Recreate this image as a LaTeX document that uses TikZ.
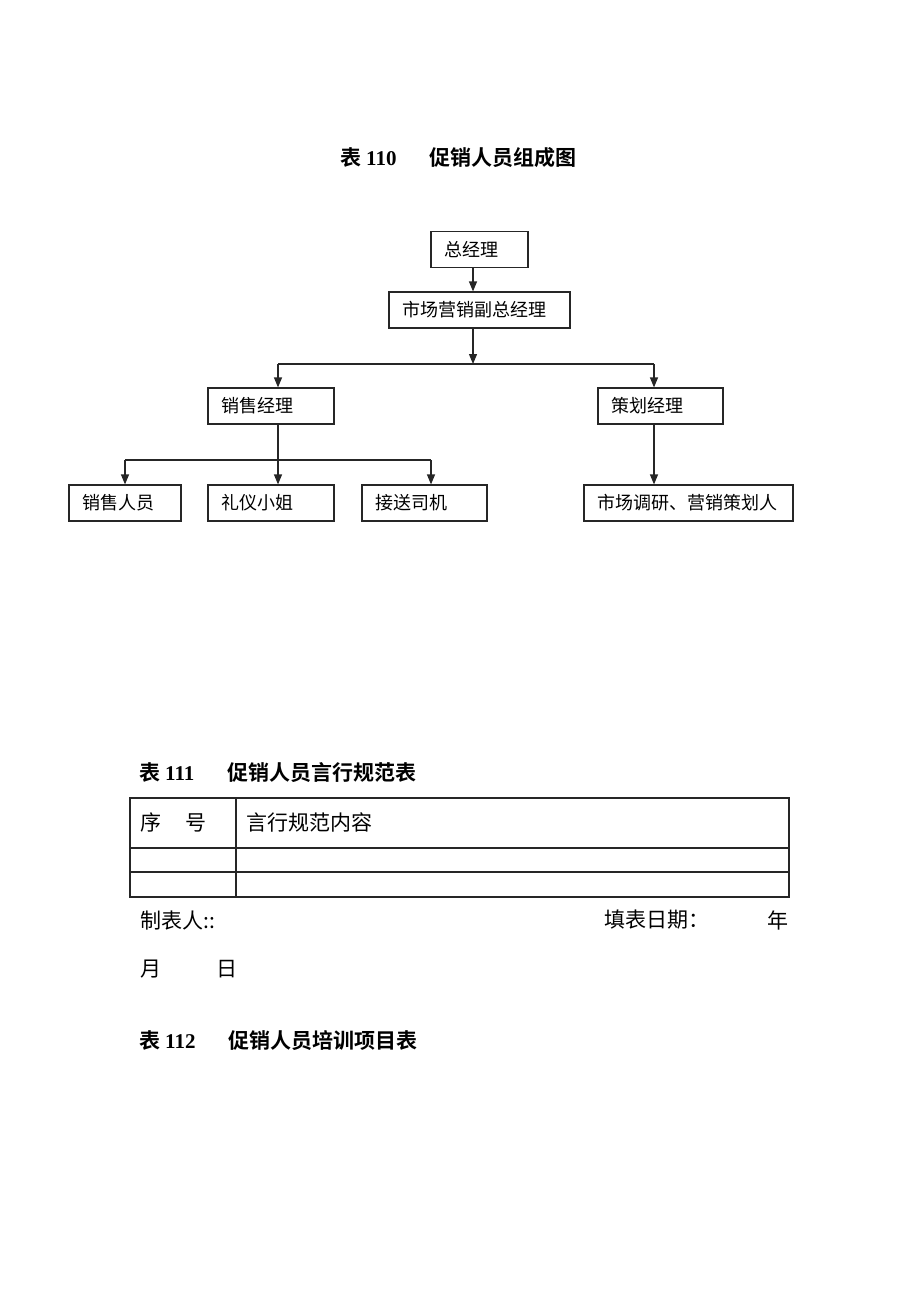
\documentclass[tikz,border=0pt]{standalone}
\usepackage{fontspec}
\setmainfont{Liberation Serif}
\newfontfamily\cjk[BoldFont={Noto Sans CJK SC Bold}]{Noto Sans CJK SC}
\usetikzlibrary{arrows.meta}
\usetikzlibrary{positioning}

\tikzset{
  box/.style={draw=black!85, line width=1.2pt, inner xsep=13pt, inner ysep=0pt,
    minimum height=36pt, align=left, font=\cjk\fontsize{18}{18}\selectfont},
  link/.style={draw=black!85, line width=1.2pt, -{Triangle[length=10pt,width=8pt]}},
  caption/.style={anchor=west, inner sep=0pt, font=\fontsize{21}{21}\selectfont\bfseries},
  cell/.style={anchor=west, inner sep=0pt, font=\cjk\fontsize{21}{21}\selectfont},
}

\begin{document}
\begin{tikzpicture}[x=1pt, y=-1pt]
	\useasboundingbox (0,0) rectangle (920,1302);
	%chart title
	\node[caption] (title0) at (340,158) {{\cjk 表}\hspace{5pt}110\hspace{33pt}{\cjk 促销人员组成图}};
	%draw boxes
	\node[box, text width=71pt] (gm) at (479.5,249.5) {总经理};
	\node[box, text width=155pt] (vp) at (479.5,310) {市场营销副总经理};
	\node[box, text width=100pt] (sm) at (271,406) {销售经理};
	\node[box, text width=99pt] (pm) at (660.5,406) {策划经理};
	\node[box, text width=86pt] (staff) at (125,503) {销售人员};
	\node[box, text width=100pt] (lady) at (271,503) {礼仪小姐};
	\node[box, text width=99pt] (driver) at (424.5,503) {接送司机};
	\node[box, text width=183pt] (research) at (688.5,503) {市场调研、营销策划人};
	%branch points
	\coordinate (j1) at (473,364);
	\coordinate (j2) at (278,460);
	\coordinate (j3) at (654,364);
	%add arrows
	\draw[link] (gm.south -| j1) -- (vp.north -| j1);
	\draw[link] (vp.south -| j1) -- (j1);
	\draw[line width=1.2pt, draw=black!85] (j1 -| j2) -- (j3);
	\draw[link] (j1 -| j2) -- (sm.north -| j2);
	\draw[link] (j3) -- (pm.north -| j3);
	\draw[line width=1.2pt, draw=black!85] (sm.south -| j2) -- (j2);
	\draw[line width=1.2pt, draw=black!85] (j2 -| staff) -- (j2 -| 431,0);
	\draw[link] (j2 -| staff) -- (staff.north);
	\draw[link] (j2) -- (lady.north -| j2);
	\draw[link] (j2 -| 431,0) -- (driver.north -| 431,0);
	\draw[link] (pm.south -| j3) -- (research.north -| j3);
	%second table
	\node[caption] (title1) at (139,773) {{\cjk 表}\hspace{5pt}111\hspace{33pt}{\cjk 促销人员言行规范表}};
	\draw[line width=1.2pt, draw=black!85] (130,798) rectangle (789,897);
	\draw[line width=1.2pt, draw=black!85] (130,848) -- (789,848);
	\draw[line width=1.2pt, draw=black!85] (130,872) -- (789,872);
	\draw[line width=1.2pt, draw=black!85] (236,798) -- (236,897);
	\node[cell] (num) at (140,822) {序\hspace{24pt}号};
	\node[cell] (rule) at (246,822) {言行规范内容};
	\node[cell] (maker) at (140,920) {制表人::};
	\node[cell] (date) at (604,920) {填表日期：};
	\node[cell] (year) at (767,920) {年};
	\node[cell] (month) at (140,969) {月};
	\node[cell] (day) at (216,969) {日};
	%third table
	\node[caption] (title2) at (139,1041) {{\cjk 表}\hspace{5pt}112\hspace{33pt}{\cjk 促销人员培训项目表}};
\end{tikzpicture}
\end{document}
